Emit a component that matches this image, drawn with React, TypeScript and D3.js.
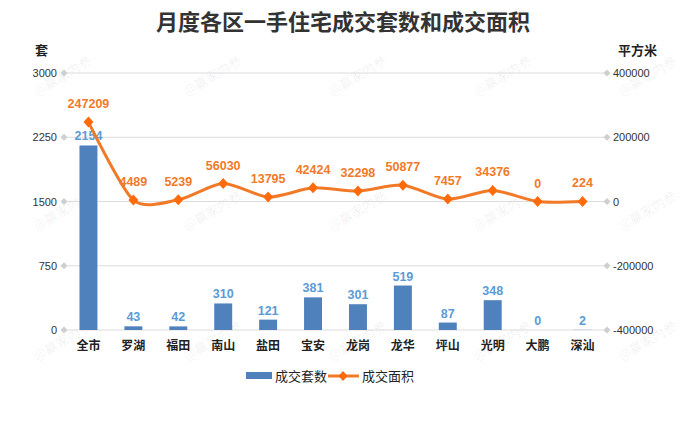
import React from "react";
import * as d3 from "d3";

const categories = ["全市", "罗湖", "福田", "南山", "盐田", "宝安", "龙岗", "龙华", "坪山", "光明", "大鹏", "深汕"];
const units = [2154, 43, 42, 310, 121, 381, 301, 519, 87, 348, 0, 2];
const areas = [247209, 4489, 5239, 56030, 13795, 42424, 32298, 50877, 7457, 34376, 0, 224];
const leftTicks = [0, 750, 1500, 2250, 3000];
const rightTicks = [-400000, -200000, 0, 200000, 400000];
const title = "月度各区一手住宅成交套数和成交面积";
const seriesNames = ["成交套数", "成交面积"];
const watermark = "@赢家内参";

const W = 686;
const H = 426;
const M = { left: 64, right: 607, top: 73, bottom: 330 };
const NUM = "'Liberation Sans', Arial, 'Noto Sans CJK SC', sans-serif";
const CJK = "'Noto Sans CJK SC', 'Microsoft YaHei', sans-serif";
const BAR = "#4F81BD";
const BAR_LABEL = "#5B9BD5";
const LINE = "#F07A28";
const MARK = "#FF6A0A";

const diamond = (cx: number, cy: number, rx: number, ry: number) =>
  `M${cx},${cy - ry}L${cx + rx},${cy}L${cx},${cy + ry}L${cx - rx},${cy}Z`;

export default function App() {
  const x = d3
    .scaleBand<string>()
    .domain(categories)
    .range([M.left + 2, M.right - 2])
    .paddingInner(0.6)
    .paddingOuter(0.3);
  const yL = d3.scaleLinear().domain([0, 3000]).range([M.bottom, M.top]);
  const yR = d3.scaleLinear().domain([-400000, 400000]).range([M.bottom, M.top]);
  const cx = (c: string) => (x(c) as number) + x.bandwidth() / 2;

  const line = d3
    .line<number>()
    .x((_, i) => cx(categories[i]))
    .y((d) => yR(d))
    .curve(d3.curveCardinal.tension(0.25));

  const wmX = [65, 215, 360, 505, 650];
  const wmY = [80, 215, 345];

  return (
    <svg
      width={W}
      height={H}
      style={{ position: "absolute", left: 0, top: 0, background: "#fff" }}
    >
      <rect width={W} height={H} fill="#fff" />
      {/* watermarks */}
      {wmY.map((wy) =>
        wmX.map((wx) => (
          <text
            key={`${wx}-${wy}`}
            x={wx}
            y={wy}
            fontFamily={CJK}
            fontSize={13}
            fill="#000"
            fillOpacity={0.07}
            textAnchor="middle"
            transform={`rotate(-30 ${wx} ${wy})`}
          >
            {watermark}
          </text>
        ))
      )}
      <text
        x={343}
        y={30}
        textAnchor="middle"
        fontFamily={CJK}
        fontWeight="bold"
        fontSize={22}
        fill="#333"
      >
        {title}
      </text>
      <text x={35} y={55} fontFamily={CJK} fontWeight="bold" fontSize={13} fill="#222">
        套
      </text>
      <text x={618} y={55} fontFamily={CJK} fontWeight="bold" fontSize={13} fill="#222">
        平方米
      </text>
      {/* gridlines */}
      {leftTicks.map((t) => (
        <g key={t}>
          <line x1={M.left} x2={M.right} y1={yL(t)} y2={yL(t)} stroke="#dcdcdc" strokeWidth={1} />
          <path d={diamond(M.left, yL(t), 3.5, 3.5)} fill="#cfcfcf" />
          <path d={diamond(M.right, yL(t), 3.5, 3.5)} fill="#cfcfcf" />
          <text
            x={57}
            y={yL(t) + 4}
            textAnchor="end"
            fontFamily={NUM}
            fontSize={11}
            fill="#333"
          >
            {t}
          </text>
        </g>
      ))}
      {rightTicks.map((t) => (
        <text key={t} x={613} y={yR(t) + 4} fontFamily={NUM} fontSize={11} fill="#333">
          {t}
        </text>
      ))}
      {/* bars */}
      {units.map((v, i) => (
        <g key={categories[i]}>
          <rect
            x={x(categories[i])}
            y={yL(v)}
            width={x.bandwidth()}
            height={M.bottom - yL(v)}
            fill={BAR}
          />
          <text
            x={cx(categories[i])}
            y={yL(v) - 5}
            textAnchor="middle"
            fontFamily={NUM}
            fontWeight="bold"
            fontSize={12.5}
            fill={BAR_LABEL}
          >
            {v}
          </text>
        </g>
      ))}
      {/* line */}
      <path d={line(areas) || ""} fill="none" stroke={LINE} strokeWidth={3} />
      {areas.map((v, i) => (
        <g key={categories[i]}>
          <path d={diamond(cx(categories[i]), yR(v), 5, 5.5)} fill={MARK} />
          <text
            x={cx(categories[i])}
            y={yR(v) - 14}
            textAnchor="middle"
            fontFamily={NUM}
            fontWeight="bold"
            fontSize={12.5}
            fill={LINE}
          >
            {v}
          </text>
        </g>
      ))}
      {/* categories */}
      {categories.map((c) => (
        <text
          key={c}
          x={cx(c)}
          y={350}
          textAnchor="middle"
          fontFamily={CJK}
          fontWeight="bold"
          fontSize={12}
          fill="#222"
        >
          {c}
        </text>
      ))}
      {/* legend */}
      <rect x={246} y={372} width={26} height={7} fill={BAR} />
      <text x={275} y={381} fontFamily={CJK} fontSize={13} fill="#222">
        {seriesNames[0]}
      </text>
      <line x1={328} x2={359} y1={376} y2={376} stroke={LINE} strokeWidth={3} />
      <path d={diamond(343, 376, 4.5, 5)} fill={MARK} />
      <text x={362} y={381} fontFamily={CJK} fontSize={13} fill="#222">
        {seriesNames[1]}
      </text>
    </svg>
  );
}
